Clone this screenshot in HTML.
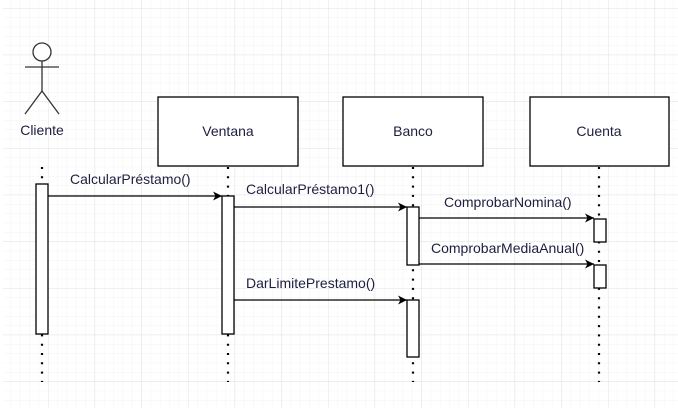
<!DOCTYPE html>
<html><head><meta charset="utf-8"><style>
html,body{margin:0;padding:0;background:#fff;}
svg{display:block;}
text{font-family:"Liberation Sans",Arial,sans-serif;font-size:14px;fill:#1e1e40;}
</style></head><body>
<svg width="678" height="415" viewBox="0 0 678 415" xmlns="http://www.w3.org/2000/svg">
<defs>
<pattern id="minor" x="1.3" y="8" width="9.333" height="9.333" patternUnits="userSpaceOnUse">
<path d="M0 0H9.333M0 0V9.333" stroke="#f3f3f3" stroke-width="1" fill="none"/>
</pattern>
<pattern id="major" x="1.3" y="8" width="46.667" height="46.667" patternUnits="userSpaceOnUse">
<path d="M0 0H46.667M0 0V46.667" stroke="#e2e2e2" stroke-width="1" fill="none"/>
</pattern>
<marker id="ah" markerWidth="10" markerHeight="10" refX="9" refY="5" orient="auto" markerUnits="userSpaceOnUse">
<path d="M0 0.5L9 5L0 9.5L2.5 5Z" fill="#000"/>
</marker>
</defs>
<rect x="3" y="0" width="675" height="408" fill="url(#minor)"/>
<rect x="3" y="0" width="675" height="408" fill="url(#major)"/>

<g stroke="#333" stroke-width="1.3" fill="#fff">
<circle cx="42" cy="52" r="9"/>
<line x1="42" y1="61" x2="42" y2="91"/>
<line x1="25" y1="67" x2="59" y2="67"/>
<line x1="42" y1="91" x2="25" y2="114"/>
<line x1="42" y1="91" x2="59" y2="114"/>
</g>
<text x="42" y="135" text-anchor="middle">Cliente</text>

<g stroke="#000" stroke-width="1.3" fill="#fff">
<rect x="158" y="97" width="140" height="69"/>
<rect x="343" y="97" width="140" height="69"/>
<rect x="530" y="97" width="139" height="69"/>
</g>
<text x="228" y="136" text-anchor="middle">Ventana</text>
<text x="413" y="136" text-anchor="middle">Banco</text>
<text x="599" y="136" text-anchor="middle">Cuenta</text>

<g stroke="#000" stroke-width="2.2" stroke-dasharray="2 7.3" fill="none">
<line x1="42" y1="167" x2="42" y2="382"/>
<line x1="228" y1="167" x2="228" y2="382"/>
<line x1="413" y1="167" x2="413" y2="382"/>
<line x1="599" y1="167" x2="599" y2="382"/>
</g>

<g stroke="#000" stroke-width="1.3" fill="#fff">
<rect x="36" y="184" width="12" height="150"/>
<rect x="222" y="196" width="12" height="138"/>
<rect x="407" y="207" width="12" height="58"/>
<rect x="407" y="300" width="12" height="57"/>
<rect x="594" y="219" width="12" height="23"/>
<rect x="594" y="265" width="12" height="23"/>
</g>

<g stroke="#000" stroke-width="1.3" fill="none" marker-end="url(#ah)">
<line x1="48" y1="196" x2="222" y2="196"/>
<line x1="234" y1="207" x2="407" y2="207"/>
<line x1="419" y1="218" x2="594" y2="218"/>
<line x1="419" y1="264" x2="594" y2="264"/>
<line x1="234" y1="300" x2="407" y2="300"/>
</g>
<text x="70" y="184">CalcularPréstamo()</text>
<text x="246" y="194">CalcularPréstamo1()</text>
<text x="444" y="207">ComprobarNomina()</text>
<text x="431" y="253">ComprobarMediaAnual()</text>
<text x="246" y="288">DarLimitePrestamo()</text>
</svg>
</body></html>
